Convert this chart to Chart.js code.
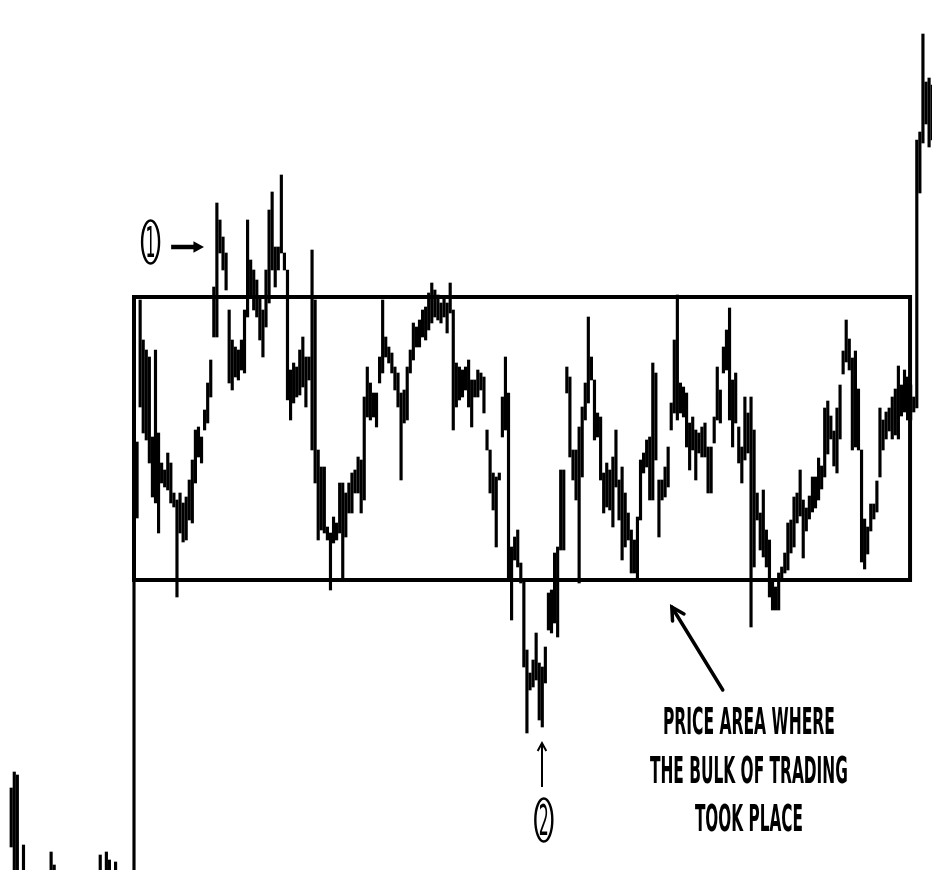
<!DOCTYPE html>
<html>
<head>
<meta charset="utf-8">
<script src="https://cdn.jsdelivr.net/npm/chart.js@4.4.0/dist/chart.umd.min.js"></script>
<style>
  html, body { margin: 0; padding: 0; background: #fff; }
  #wrap { width: 932px; height: 870px; }
</style>
</head>
<body>
<div id="wrap"><canvas id="priceChart" width="932" height="870"></canvas></div>
<script>
// early bars, bottom left corner (sparse sessions)
const earlySessions = [0, 1, 2, 4, 13, 14, 29, 31, 32, 34];
const earlyLows  = [23, 0, 0, 0, 0, 0, 0, 0, 0, 0];
const earlyHighs = [82, 98, 95, 25, 18, 5, 15, 18, 10, 8];

// main run, one bar per session from session 40 on
const firstSession = 40;
const mainLows = [
  0, 352, 463, 437, 430, 407, 373, 367, 337, 387,   // 40
  383, 380, 367, 363, 273, 337, 328, 330, 350, 347, // 50
  387, 413, 407, 440, 447, 473, 533, 533, 617, 600, // 60
  580, 487, 480, 493, 490, 500, 497, 553, 573, 560, // 70
  553, 530, 513, 543, 567, 600, 583, 600, 617, 600, // 80
  470, 450, 467, 473, 475, 483, 463, 490, 420, 387, // 90
  330, 340, 337, 330, 280, 327, 330, 337, 290, 333, // 100
  357, 357, 377, 377, 357, 370, 453, 450, 453, 443, // 110
  487, 497, 513, 507, 497, 480, 463, 390, 447, 450, // 120
  497, 510, 523, 523, 533, 530, 540, 547, 553, 550, // 130
  547, 553, 537, 557, 440, 463, 470, 473, 480, 463, // 140
  443, 473, 473, 480, 457, 420, 377, 360, 323, 390, // 150
  433, 440, 290, 250, 310, 303, 287, 203, 137, 180, // 160
  183, 190, 150, 143, 187, 240, 237, 247, 233, 320, // 170
  320, 477, 413, 390, 370, 287, 393, 450, 467, 490, // 180
  430, 433, 390, 357, 363, 360, 343, 383, 350, 310, // 190
  323, 330, 297, 297, 290, 350, 397, 403, 370, 370, // 200
  410, 333, 370, 373, 383, 440, 457, 450, 457, 453, // 210
  423, 400, 420, 390, 417, 413, 413, 377, 377, 427, // 220
  450, 447, 497, 500, 450, 423, 447, 407, 387, 410, // 230
  417, 243, 303, 350, 320, 313, 303, 273, 260, 260, // 240
  260, 290, 297, 300, 317, 323, 347, 354, 312, 339, // 250
  351, 358, 362, 370, 381, 393, 416, 431, 404, 397, // 260
  431, 496, 508, 500, 420, 423, 420, 308, 301, 316, // 270
  339, 351, 358, 393, 420, 431, 439, 431, 435, 431, // 280
  454, 458, 450, 450, 458, 462, 677, 727, 746, 723, // 290
  730                                               // 300
];
const mainHighs = [
  570, 428, 570, 530, 520, 513, 433, 520, 437, 407, // 40
  400, 417, 407, 377, 370, 377, 367, 373, 390, 410, // 50
  440, 443, 433, 460, 487, 510, 583, 667, 650, 633, // 60
  617, 560, 530, 523, 520, 530, 560, 650, 610, 600, // 70
  590, 573, 560, 600, 660, 678, 623, 623, 695, 617, // 80
  600, 500, 507, 503, 520, 533, 513, 513, 620, 570, // 90
  420, 403, 403, 343, 337, 353, 347, 387, 387, 377, // 100
  387, 397, 400, 413, 410, 473, 503, 487, 477, 477, // 110
  513, 570, 533, 523, 517, 503, 497, 477, 480, 503, // 120
  520, 547, 543, 550, 560, 563, 577, 587, 580, 575, // 130
  567, 573, 567, 587, 560, 507, 503, 500, 503, 510, // 140
  490, 490, 500, 497, 493, 440, 420, 397, 393, 397, // 150
  473, 513, 477, 323, 333, 340, 307, 290, 220, 197, // 160
  210, 237, 207, 203, 223, 277, 280, 317, 323, 400, // 170
  400, 503, 493, 420, 420, 443, 463, 487, 553, 513, // 180
  490, 457, 453, 397, 407, 400, 413, 440, 390, 403, // 190
  377, 357, 340, 330, 353, 410, 417, 430, 433, 507, // 200
  497, 390, 390, 403, 423, 467, 530, 575, 487, 483, // 210
  477, 447, 453, 440, 437, 443, 447, 423, 423, 453, // 220
  503, 480, 523, 540, 562, 490, 497, 443, 423, 473, // 230
  457, 473, 440, 377, 357, 380, 340, 330, 290, 283, // 240
  297, 303, 317, 347, 350, 373, 377, 400, 370, 362, // 250
  374, 393, 393, 412, 404, 462, 469, 454, 439, 462, // 260
  485, 519, 550, 531, 512, 519, 481, 420, 351, 343, // 270
  366, 366, 389, 462, 450, 458, 462, 473, 481, 504, // 280
  485, 500, 493, 485, 473, 730, 738, 836, 788, 792, // 290
  785                                               // 300
];

// trading range box
const boxSessions = [40, 292.8];
const boxPrices = [290, 573];

const sessions = earlySessions.concat(mainLows.map((_, k) => firstSession + k));
const lows = earlyLows.concat(mainLows);
const highs = earlyHighs.concat(mainHighs);
const bars = sessions.map((s, i) => ({ x: s, y: [lows[i], highs[i]] }));

// annotations, placed in session / price units
const notes = {
  one:   { x: 45.4, y: 628 },
  arrow1: { from: [52.1, 623], to: [62.8, 623] },
  two:   { x: 173.5, y: 50 },
  arrow2: { from: [172.9, 83], to: [172.9, 127] },
  arrow3: { from: [231.8, 180], to: [215.2, 263] },
  label: { x: 240.3, lines: [
    { text: 'PRICE AREA WHERE', y: 136, w: 172 },
    { text: 'THE BULK OF TRADING', y: 87.3, w: 198 },
    { text: 'TOOK PLACE', y: 39.3, w: 108 }
  ] }
};

function arrow(ctx, x1, y1, x2, y2, lw, head, filled) {
  const a = Math.atan2(y2 - y1, x2 - x1);
  ctx.lineWidth = lw;
  ctx.beginPath();
  ctx.moveTo(x1, y1);
  ctx.lineTo(filled ? x2 - head * 0.7 * Math.cos(a) : x2, filled ? y2 - head * 0.7 * Math.sin(a) : y2);
  ctx.stroke();
  ctx.beginPath();
  ctx.moveTo(x2 - head * Math.cos(a - 0.5), y2 - head * Math.sin(a - 0.5));
  ctx.lineTo(x2, y2);
  ctx.lineTo(x2 - head * Math.cos(a + 0.5), y2 - head * Math.sin(a + 0.5));
  if (filled) { ctx.closePath(); ctx.fill(); } else { ctx.stroke(); }
}

function circled(ctx, cx, cy, digit) {
  ctx.lineWidth = 2.4;
  ctx.beginPath();
  ctx.ellipse(cx, cy, 8.5, 21.5, 0, 0, Math.PI * 2);
  ctx.stroke();
  ctx.font = '42px "Liberation Sans Narrow", "DejaVu Sans Condensed", "Liberation Sans", sans-serif';
  ctx.textAlign = 'center';
  ctx.textBaseline = 'alphabetic';
  ctx.fillText(digit, cx, cy + 15, 10);
}

const drawNotes = {
  id: 'drawNotes',
  afterDatasetsDraw(chart) {
    const { ctx, scales: { x, y } } = chart;
    const px = v => x.getPixelForValue(v);
    const py = v => y.getPixelForValue(v);
    ctx.save();
    ctx.strokeStyle = '#000';
    ctx.fillStyle = '#000';
    ctx.lineCap = 'butt';

    // box
    ctx.lineWidth = 4;
    const bx = px(boxSessions[0]), by = py(boxPrices[1]);
    ctx.strokeRect(bx, by, px(boxSessions[1]) - bx, py(boxPrices[0]) - by);

    // markers
    circled(ctx, px(notes.one.x), py(notes.one.y), '1');
    circled(ctx, px(notes.two.x), py(notes.two.y), '2');
    arrow(ctx, px(notes.arrow1.from[0]), py(notes.arrow1.from[1]), px(notes.arrow1.to[0]), py(notes.arrow1.to[1]), 4.5, 12, true);
    arrow(ctx, px(notes.arrow2.from[0]), py(notes.arrow2.from[1]), px(notes.arrow2.to[0]), py(notes.arrow2.to[1]), 2, 9, false);
    ctx.lineCap = 'round';
    arrow(ctx, px(notes.arrow3.from[0]), py(notes.arrow3.from[1]), px(notes.arrow3.to[0]), py(notes.arrow3.to[1]), 3.5, 14, false);

    // caption
    ctx.font = 'bold 37px "Liberation Sans Narrow", "DejaVu Sans Condensed", "Liberation Sans", sans-serif';
    ctx.textAlign = 'center';
    ctx.textBaseline = 'alphabetic';
    notes.label.lines.forEach(l => ctx.fillText(l.text, px(notes.label.x), py(l.y), l.w));
    ctx.restore();
  }
};

new Chart(document.getElementById('priceChart').getContext('2d'), {
  type: 'bar',
  data: {
    datasets: [{ data: bars, backgroundColor: '#000', borderWidth: 0, barThickness: 2.5 }]
  },
  options: {
    responsive: false,
    animation: false,
    layout: { padding: 0 },
    plugins: { legend: { display: false }, tooltip: { enabled: false } },
    scales: {
      x: { type: 'linear', min: -3.65, max: 299.95, offset: false, display: false },
      y: { min: 0, max: 870, display: false }
    }
  },
  plugins: [drawNotes]
});
</script>
</body>
</html>
